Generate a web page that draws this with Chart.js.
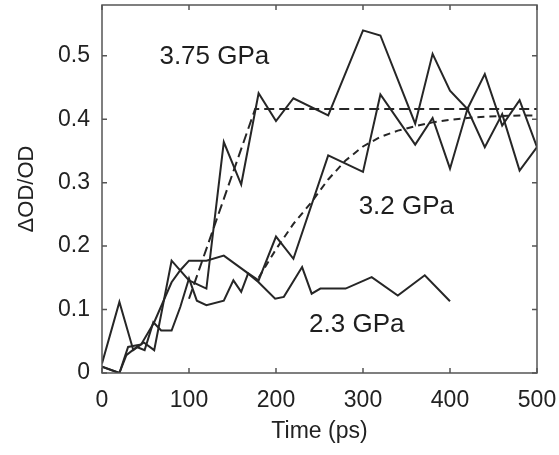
<!DOCTYPE html>
<html>
<head>
<meta charset="utf-8">
<script src="https://cdn.jsdelivr.net/npm/chart.js@4.4.1/dist/chart.umd.min.js"></script>
<style>
  html, body { margin: 0; padding: 0; background: #fff; }
  #wrap { width: 559px; height: 455px; }
</style>
</head>
<body>
<div id="wrap"><canvas id="odChart" width="559" height="455"></canvas></div>
<script>
// measured transients (time in ps, dOD/OD)
const time375 = [0, 20, 36, 48, 60, 80, 100, 120, 140, 160, 180, 200, 220, 260, 300, 320, 360, 380, 400, 420, 440, 460, 480, 500];
const od375 = [0.015, 0.112, 0.036, 0.048, 0.036, 0.177, 0.146, 0.133, 0.364, 0.297, 0.441, 0.397, 0.433, 0.406, 0.540, 0.532, 0.393, 0.503, 0.445, 0.416, 0.471, 0.390, 0.430, 0.356];

const time32 = [0, 20, 28, 40, 49, 59, 68, 80, 90, 100, 109, 120, 140, 151, 160, 168, 180, 200, 220, 260, 300, 320, 360, 380, 400, 420, 440, 460, 480, 500];
const od32 = [0.010, 0.000, 0.028, 0.041, 0.036, 0.080, 0.067, 0.067, 0.104, 0.149, 0.114, 0.107, 0.114, 0.146, 0.128, 0.157, 0.146, 0.215, 0.180, 0.343, 0.317, 0.439, 0.360, 0.402, 0.322, 0.416, 0.356, 0.408, 0.319, 0.356];

const time23 = [0, 20, 30, 45, 60, 80, 90, 100, 120, 140, 166, 180, 199, 209, 230, 241, 251, 280, 310, 340, 371, 400];
const od23 = [0.010, 0.000, 0.041, 0.045, 0.080, 0.143, 0.162, 0.177, 0.177, 0.185, 0.159, 0.143, 0.117, 0.120, 0.167, 0.125, 0.133, 0.133, 0.151, 0.122, 0.154, 0.113];

// fitted curves (dashed)
const fitTime375 = [100, 176, 500];
const fitOd375 = [0.117, 0.416, 0.416];
const fitTime32 = [180, 200, 220, 240, 260, 280, 300, 320, 340, 360, 380, 400, 420, 440, 460, 480, 500];
const fitOd32 = [0.150, 0.195, 0.235, 0.268, 0.305, 0.335, 0.357, 0.372, 0.382, 0.389, 0.395, 0.399, 0.402, 0.404, 0.405, 0.406, 0.406];

const xTicks = [0, 100, 200, 300, 400, 500];
const yTicks = [0, 0.1, 0.2, 0.3, 0.4, 0.5];

// series labels, anchored in data units
const seriesLabels = [
  { text: '3.75 GPa', x: 66, y: 0.487 },
  { text: '3.2 GPa', x: 295, y: 0.251 },
  { text: '2.3 GPa', x: 238, y: 0.065 }
];

const FONT = "'Liberation Sans', Arial, Helvetica, sans-serif";
const INK = '#262626';
const FRAME = '#555';

function toPoints(xs, ys) {
  return xs.map((x, i) => ({ x: x, y: ys[i] }));
}

function solid(xs, ys) {
  return { data: toPoints(xs, ys), borderColor: INK, borderWidth: 2, showLine: true, pointRadius: 0, tension: 0 };
}

function dashed(xs, ys, dash) {
  return { data: toPoints(xs, ys), borderColor: INK, borderWidth: 2, borderDash: dash, showLine: true, pointRadius: 0, tension: 0 };
}

// no label overhang, the layout padding decides the plot box
function noOverhang(s) {
  s.paddingTop = 0; s.paddingBottom = 0; s.paddingLeft = 0; s.paddingRight = 0;
}

// frame, inward ticks and the pressure labels
const framePlugin = {
  id: 'frame',
  afterDraw(chart) {
    const ctx = chart.ctx;
    const a = chart.chartArea;
    const xs = chart.scales.x;
    const ys = chart.scales.y;
    ctx.save();
    ctx.strokeStyle = FRAME;
    ctx.lineWidth = 1.5;
    ctx.strokeRect(a.left, a.top, a.right - a.left, a.bottom - a.top);
    ctx.beginPath();
    xTicks.forEach(v => {
      const px = xs.getPixelForValue(v);
      ctx.moveTo(px, a.bottom); ctx.lineTo(px, a.bottom - 5);
      ctx.moveTo(px, a.top); ctx.lineTo(px, a.top + 5);
    });
    yTicks.forEach(v => {
      const py = ys.getPixelForValue(v);
      ctx.moveTo(a.left, py); ctx.lineTo(a.left + 5, py);
      ctx.moveTo(a.right, py); ctx.lineTo(a.right - 5, py);
    });
    ctx.stroke();

    ctx.fillStyle = '#1e1e1e';
    ctx.font = '26px ' + FONT;
    ctx.textBaseline = 'alphabetic';
    ctx.textAlign = 'left';
    seriesLabels.forEach(l => {
      ctx.fillText(l.text, xs.getPixelForValue(l.x), ys.getPixelForValue(l.y));
    });
    ctx.restore();
  }
};

new Chart(document.getElementById('odChart'), {
  type: 'scatter',
  data: {
    datasets: [
      solid(time375, od375),
      solid(time32, od32),
      solid(time23, od23),
      dashed(fitTime375, fitOd375, [10, 5]),
      dashed(fitTime32, fitOd32, [7, 5])
    ]
  },
  options: {
    responsive: false,
    animation: false,
    devicePixelRatio: 1,
    layout: { padding: { left: 0, right: 22, top: 5, bottom: 0 } },
    plugins: { legend: { display: false }, tooltip: { enabled: false } },
    scales: {
      x: {
        type: 'linear',
        min: 0,
        max: 500,
        afterBuildTicks: s => { s.ticks = xTicks.map(v => ({ value: v })); },
        afterFit: s => { s.height = 82; noOverhang(s); },
        grid: { display: false, drawTicks: false },
        border: { display: false },
        ticks: { color: '#222', padding: 14, font: { family: FONT, size: 23 }, maxRotation: 0 },
        title: { display: true, text: 'Time (ps)', color: '#222', padding: { top: 0, bottom: 10 }, font: { family: FONT, size: 23 } }
      },
      y: {
        type: 'linear',
        min: 0,
        max: 0.58,
        afterBuildTicks: s => { s.ticks = yTicks.map(v => ({ value: v })); },
        afterFit: s => { s.width = 102; noOverhang(s); },
        grid: { display: false, drawTicks: false },
        border: { display: false },
        ticks: { color: '#222', padding: 12, font: { family: FONT, size: 23 }, callback: v => String(v) },
        title: { display: true, text: 'ΔOD/OD', color: '#222', padding: { top: 14, bottom: 0 }, font: { family: FONT, size: 22 } }
      }
    }
  },
  plugins: [framePlugin]
});
</script>
</body>
</html>
